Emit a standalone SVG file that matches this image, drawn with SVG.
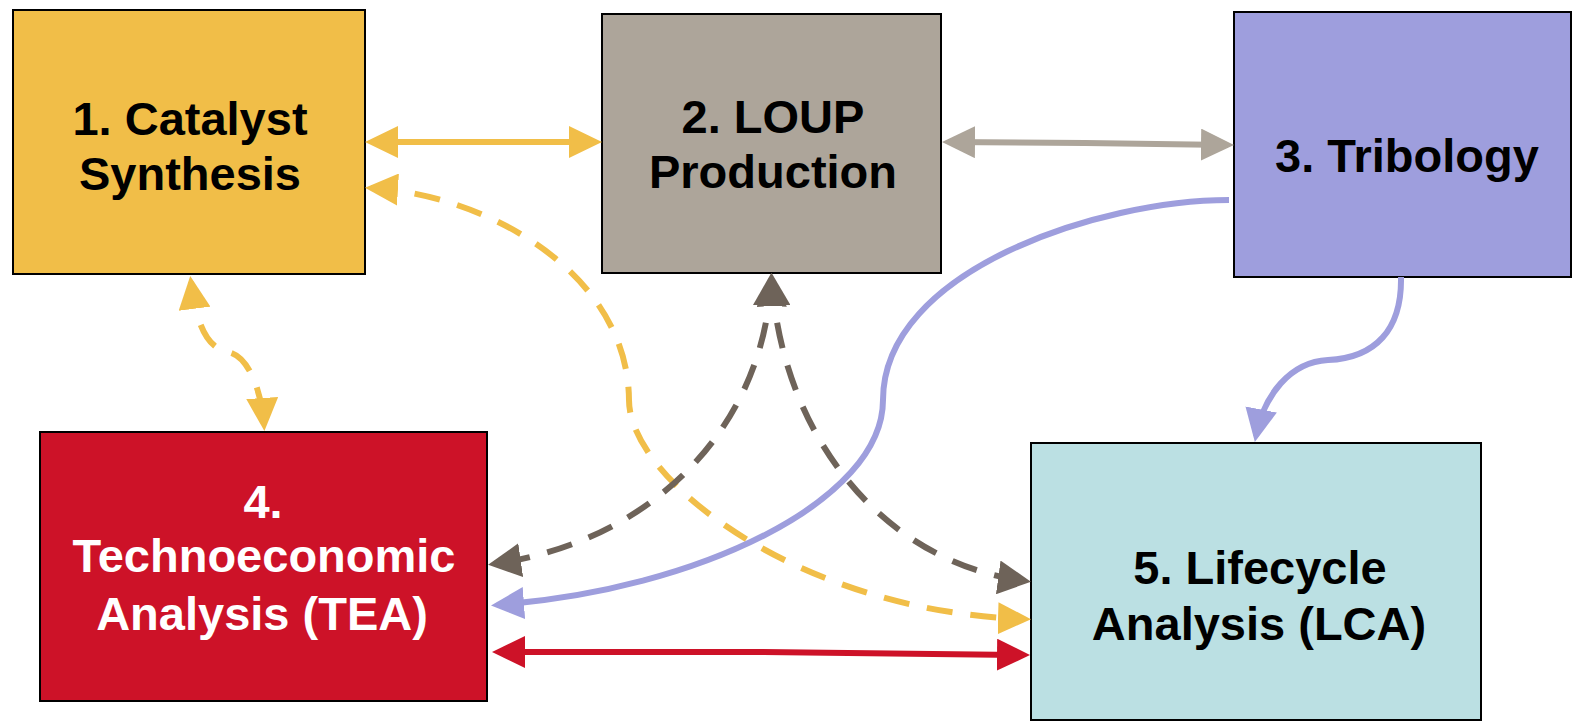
<svg xmlns="http://www.w3.org/2000/svg" width="1576" height="723" viewBox="0 0 1576 723">
<style>
.box{stroke:#000;stroke-width:2}
.lbl{font-family:"Liberation Sans",Arial,sans-serif;font-weight:bold;font-size:47px;text-anchor:middle;fill:#000}
.w{fill:#fff}
.c{fill:none;stroke-width:6}
.d{stroke-dasharray:26 18}
</style>
<defs>
<marker id="mY" markerUnits="userSpaceOnUse" viewBox="0 0 33 32" markerWidth="33" markerHeight="32" refX="27" refY="16" orient="auto-start-reverse"><path d="M0,0 L33,16 L0,32 z" fill="#F1BE48"/></marker>
<marker id="mG" markerUnits="userSpaceOnUse" viewBox="0 0 33 32" markerWidth="33" markerHeight="32" refX="27" refY="16" orient="auto-start-reverse"><path d="M0,0 L33,16 L0,32 z" fill="#ADA59A"/></marker>
<marker id="mD" markerUnits="userSpaceOnUse" viewBox="0 0 33 34" markerWidth="33" markerHeight="34" refX="27" refY="17" orient="auto-start-reverse"><path d="M0,0 L33,17 L0,34 z" fill="#6E6359"/></marker>
<marker id="mP" markerUnits="userSpaceOnUse" viewBox="0 0 33 32" markerWidth="33" markerHeight="32" refX="27" refY="16" orient="auto-start-reverse"><path d="M0,0 L33,16 L0,32 z" fill="#9E9EDD"/></marker>
<marker id="mR" markerUnits="userSpaceOnUse" viewBox="0 0 33 32" markerWidth="33" markerHeight="32" refX="27" refY="16" orient="auto-start-reverse"><path d="M0,0 L33,16 L0,32 z" fill="#CD1228"/></marker>
</defs>
<rect width="1576" height="723" fill="#fff"/>
<g id="node1">
<rect class="box" x="13" y="10" width="352" height="264" fill="#F1BE48"/>
<text class="lbl" x="190" y="135">1. Catalyst</text>
<text class="lbl" x="190" y="190">Synthesis</text>
</g>
<g id="node2">
<rect class="box" x="602" y="14" width="339" height="259" fill="#ADA59A"/>
<text class="lbl" x="773" y="133">2. LOUP</text>
<text class="lbl" x="773" y="188">Production</text>
</g>
<g id="node3">
<rect class="box" x="1234" y="12" width="337" height="265" fill="#9E9EDD"/>
<text class="lbl" x="1407" y="172">3. Tribology</text>
</g>
<g id="node4">
<rect class="box" x="40" y="432" width="447" height="269" fill="#CD1228"/>
<text class="lbl w" x="263" y="518">4.</text>
<text class="lbl w" x="264" y="572">Technoeconomic</text>
<text class="lbl w" x="262" y="630">Analysis (TEA)</text>
</g>
<g id="node5">
<rect class="box" x="1031" y="443" width="450" height="277" fill="#BBE0E3"/>
<text class="lbl" x="1260" y="584">5. Lifecycle</text>
<text class="lbl" x="1259" y="640">Analysis (LCA)</text>
</g>
<g id="connectors">
<path class="c" stroke="#F1BE48" d="M371,142 L596,142" marker-start="url(#mY)" marker-end="url(#mY)"/>
<path class="c" stroke="#ADA59A" d="M948,142 L1085,143 L1228,145" marker-start="url(#mG)" marker-end="url(#mG)"/>
<path class="c d" stroke="#F1BE48" d="M371,188 C490,195 628,275 629,400 C629,480 800,612 1025,619" marker-start="url(#mY)" marker-end="url(#mY)"/>
<path class="c d" stroke="#F1BE48" d="M191,282 C196,320 205,348 228,352 C250,356 262,395 264,425" marker-start="url(#mY)" marker-end="url(#mY)"/>
<path class="c d" stroke="#6E6359" d="M771,279 C765,420 660,540 494,564" marker-start="url(#mD)" marker-end="url(#mD)"/>
<path class="c d" stroke="#6E6359" d="M772,279 C780,420 870,560 1025,581" marker-start="url(#mD)" marker-end="url(#mD)"/>
<path class="c" stroke="#9E9EDD" d="M1229,200 C1100,200 883,270 883,400 C883,500 700,590 497,605" marker-end="url(#mP)"/>
<path class="c" stroke="#9E9EDD" d="M1401,277 C1402,330 1375,358 1328,360 C1290,362 1264,395 1256,436" marker-end="url(#mP)"/>
<path class="c" stroke="#CD1228" d="M498,652 L763,652 L1024,655" marker-start="url(#mR)" marker-end="url(#mR)"/>
</g>
</svg>
